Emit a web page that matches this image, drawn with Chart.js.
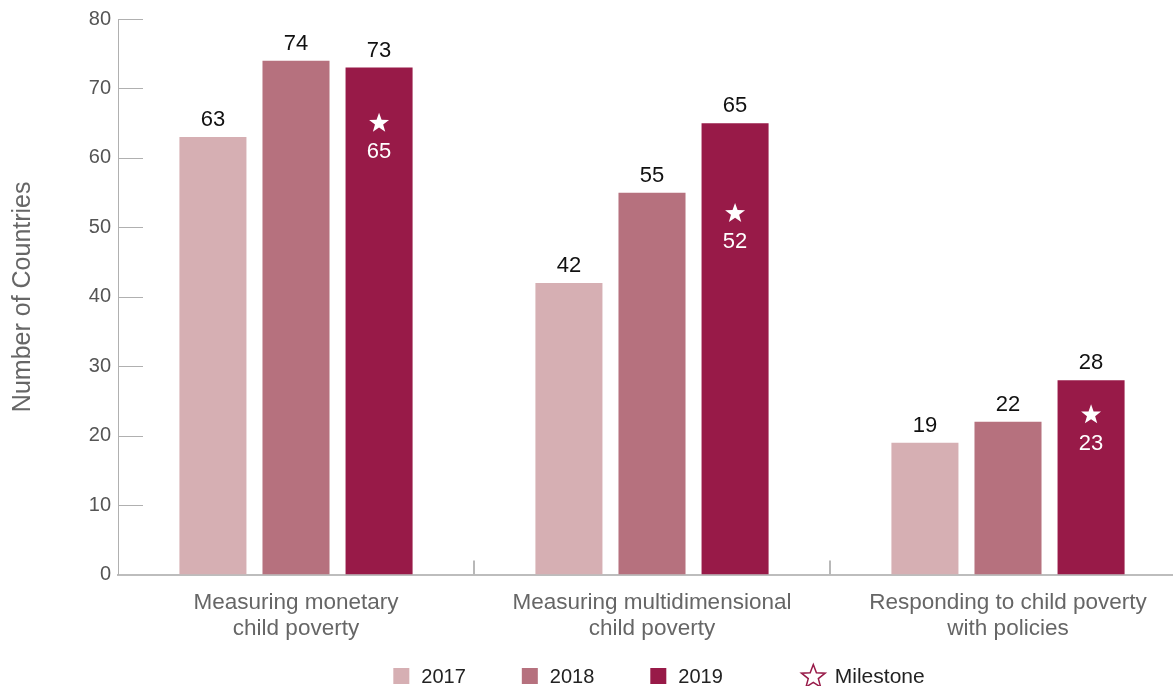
<!DOCTYPE html>
<html>
<head>
<meta charset="utf-8">
<script src="https://cdn.jsdelivr.net/npm/chart.js@4"></script>
<style>
html, body { margin: 0; padding: 0; background: #fff; overflow: hidden; }
#wrap { width: 1186px; height: 686px; }
</style>
</head>
<body>
<div id="wrap"><canvas id="chart"></canvas></div>
<script>
// ====== Data ======
const categories = [
    ['Measuring monetary', 'child poverty'],
    ['Measuring multidimensional', 'child poverty'],
    ['Responding to child poverty', 'with policies']
];
const years = ['2017', '2018', '2019'];
const values2017 = [63, 42, 19];
const values2018 = [74, 55, 22];
const values2019 = [73, 65, 28];
const milestones2019 = [65, 52, 23];
const milestoneLabel = 'Milestone';
const yMax = 80;
const yStep = 10;

const colors = ['#D6AFB3', '#B6717E', '#981A48'];
const FONT = '"Liberation Sans", Arial, sans-serif';

// ====== Helpers ======
function starPath(ctx, cx, cy, outer, inner) {
    ctx.beginPath();
    for (let i = 0; i < 10; i++) {
        const r = i % 2 === 0 ? outer : inner;
        const a = -Math.PI / 2 + i * Math.PI / 5;
        const x = cx + r * Math.cos(a);
        const y = cy + r * Math.sin(a);
        if (i === 0) ctx.moveTo(x, y); else ctx.lineTo(x, y);
    }
    ctx.closePath();
}

// ====== Plugins ======
const axisMarks = {
    id: 'axisMarks',
    afterDraw(chart) {
        const { ctx, chartArea, scales: { x, y } } = chart;
        ctx.save();
        // short tick marks inside the plot on the y axis
        ctx.strokeStyle = '#b0b0b0';
        ctx.lineWidth = 1;
        y.ticks.forEach(t => {
            if (t.value === 0) return;
            const py = Math.round(y.getPixelForValue(t.value)) + 0.5;
            ctx.beginPath();
            ctx.moveTo(chartArea.left, py);
            ctx.lineTo(chartArea.left + 25, py);
            ctx.stroke();
        });
        // category separators on the x axis
        ctx.strokeStyle = '#b8b8b8';
        ctx.lineWidth = 2;
        const half = (x.getPixelForValue(1) - x.getPixelForValue(0)) / 2;
        for (let i = 1; i < categories.length; i++) {
            const px = Math.round(x.getPixelForValue(i) - half);
            ctx.beginPath();
            ctx.moveTo(px, chartArea.bottom);
            ctx.lineTo(px, chartArea.bottom - 14);
            ctx.stroke();
        }
        ctx.restore();
    }
};

const barLabels = {
    id: 'barLabels',
    afterDatasetsDraw(chart) {
        const { ctx } = chart;
        ctx.save();
        ctx.font = '22px ' + FONT;
        ctx.textAlign = 'center';
        ctx.textBaseline = 'alphabetic';
        ctx.fillStyle = '#111';
        chart.data.datasets.forEach((ds, di) => {
            chart.getDatasetMeta(di).data.forEach((bar, i) => {
                ctx.fillText(ds.data[i], bar.x, bar.y - 11);
            });
        });

        // milestones inside the 2019 bars
        const yScale = chart.scales.y;
        ctx.fillStyle = '#fff';
        chart.getDatasetMeta(2).data.forEach((bar, i) => {
            const py = yScale.getPixelForValue(milestones2019[i]);
            starPath(ctx, bar.x, py, 10.5, 4.3);
            ctx.fill();
            ctx.fillText(milestones2019[i], bar.x, py + 35);
        });
        ctx.restore();
    }
};

// legend drawn by hand: three colour boxes and an outlined star
const customLegend = {
    id: 'customLegend',
    afterDraw(chart) {
        const { ctx, chartArea } = chart;
        ctx.save();
        ctx.textBaseline = 'alphabetic';
        const box = 16, starW = 25, gapText = 12;
        const items = years.map((y, i) => ({ text: y, color: colors[i], w: box, gap: 56, font: '20px ' + FONT }));
        items[items.length - 1].gap = 78;
        items.push({ text: milestoneLabel, star: true, w: starW, gap: 0, font: '21px ' + FONT });
        let total = 0;
        items.forEach(it => {
            ctx.font = it.font;
            it.tw = ctx.measureText(it.text).width;
            total += it.w + (it.star ? 9 : gapText) + it.tw + it.gap;
        });
        let x = (chartArea.left + chartArea.right) / 2 - total / 2 + 7;
        const cy = chart.height - 10;
        items.forEach(it => {
            if (it.star) {
                starPath(ctx, x + starW / 2, cy + 1, 12.5, 5.3);
                ctx.strokeStyle = colors[2];
                ctx.lineWidth = 1.5;
                ctx.stroke();
                x += starW + 9;
            } else {
                ctx.fillStyle = it.color;
                ctx.fillRect(x, cy - box / 2, box, box);
                x += box + gapText;
            }
            ctx.font = it.font;
            ctx.fillStyle = '#222';
            ctx.fillText(it.text, x, cy + 7);
            x += it.tw + it.gap;
        });
        ctx.restore();
    }
};

// ====== Chart ======
new Chart(document.getElementById('chart'), {
    type: 'bar',
    data: {
        labels: categories,
        datasets: [
            { label: years[0], data: values2017, backgroundColor: colors[0] },
            { label: years[1], data: values2018, backgroundColor: colors[1] },
            { label: years[2], data: values2019, backgroundColor: colors[2] }
        ]
    },
    options: {
        responsive: true,
        maintainAspectRatio: false,
        animation: false,
        categoryPercentage: 0.70,
        barPercentage: 0.807,
        layout: { padding: { top: 19, right: 0, bottom: 29, left: 0 } },
        plugins: {
            tooltip: { enabled: false },
            legend: { display: false }
        },
        scales: {
            x: {
                grid: { display: false, drawTicks: false },
                border: { display: true, color: '#bdbdbd', width: 2 },
                ticks: {
                    color: '#666',
                    padding: 16,
                    font: { family: FONT, size: 22.5, lineHeight: 1.12 }
                }
            },
            y: {
                min: 0,
                max: yMax,
                afterFit(scale) { scale.width = 118; },
                grid: { display: false, drawTicks: false },
                border: { display: true, color: '#b0b0b0', width: 1 },
                ticks: {
                    stepSize: yStep,
                    color: '#555',
                    padding: 7,
                    font: { family: FONT, size: 20 }
                },
                title: {
                    display: true,
                    text: 'Number of Countries',
                    color: '#666',
                    padding: { top: 8, bottom: 0 },
                    font: { family: FONT, size: 25 }
                }
            }
        }
    },
    plugins: [axisMarks, barLabels, customLegend]
});
</script>
</body>
</html>
